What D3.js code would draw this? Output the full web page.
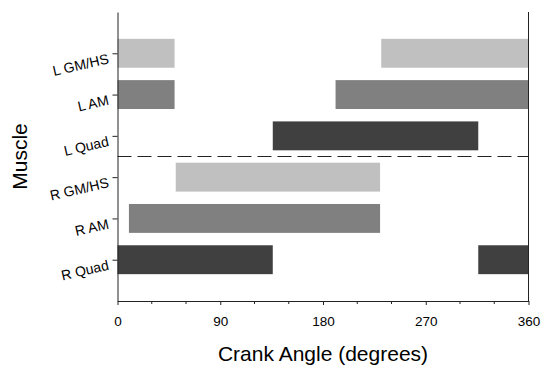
<!DOCTYPE html>
<html><head><meta charset="utf-8">
<script src="https://cdn.jsdelivr.net/npm/d3@7"></script>
<style>body{margin:0;background:#fff}svg{display:block}</style>
</head><body>
<svg id="c" width="542" height="365"></svg>
<script>
const muscles = ["L GM/HS","L AM","L Quad","R GM/HS","R AM","R Quad"];
const rowPos = [6,5,4,3,2,1];
const shades = ["#c0c0c0","#808080","#404040","#c0c0c0","#808080","#404040"];
// activation segments [start, end] in degrees, per muscle
const segStart = [[0,231],[0,191],[136],[51],[10],[0,316]];
const segEnd   = [[50,360],[50,360],[316],[230],[230],[136,360]];
const xTicks = [0,90,180,270,360];
const xMinor = [30,60,120,150,210,240,300,330];

const FONT = "Liberation Sans, Arial, sans-serif";
const svg = d3.select("#c");
const L=117.5, R=528.5, T=12, B=301;
const x = d3.scaleLinear().domain([0,360]).range([L,R]);
const y = d3.scaleLinear().domain([0,7]).range([B,T]);
const bh = y(0)-y(0.7);

const bars = [];
muscles.forEach((m,i)=>segStart[i].forEach((s,j)=>bars.push({s,e:segEnd[i][j],r:rowPos[i],c:shades[i]})));
svg.append("g").selectAll("rect").data(bars).join("rect")
  .attr("x",d=>x(d.s)).attr("width",d=>x(d.e)-x(d.s))
  .attr("y",d=>y(d.r)-bh/2).attr("height",bh).attr("fill",d=>d.c);

// dashed separator
svg.append("line").attr("x1",L).attr("x2",R).attr("y1",y(3.5)).attr("y2",y(3.5))
  .attr("stroke","#222").attr("stroke-width",1).attr("stroke-dasharray","14,6");

// right border
svg.append("line").attr("x1",R).attr("x2",R).attr("y1",T).attr("y2",B).attr("stroke","#222");

// x axis
const xa = svg.append("g").attr("transform",`translate(0,${B})`)
  .call(d3.axisBottom(x).tickValues(xTicks).tickSize(4).tickSizeOuter(0).tickPadding(11).tickFormat(d3.format("d")));
xa.append("g").selectAll("line").data(xMinor).join("line")
  .attr("x1",d=>x(d)).attr("x2",d=>x(d)).attr("y1",0).attr("y2",3).attr("stroke","#222");
xa.selectAll("text").attr("font-family",FONT).attr("font-size",13.5).attr("fill","#000");
xa.select(".domain").attr("stroke","#222");
xa.selectAll(".tick line").attr("stroke","#222");

// y axis
const ya = svg.append("g").attr("transform",`translate(${L},0)`)
  .call(d3.axisLeft(y).tickValues(rowPos).tickSize(5).tickSizeOuter(0).tickFormat((d,i)=>muscles[i]));
ya.select(".domain").attr("stroke","#222");
ya.selectAll(".tick line").attr("stroke","#222");
ya.selectAll("text").attr("font-family",FONT).attr("font-size",14).attr("fill","#000")
  .attr("x",0).attr("transform","translate(-9,5) rotate(-13)");

svg.append("text").attr("x",(L+R)/2).attr("y",361).attr("text-anchor","middle")
  .attr("font-family",FONT).attr("font-size",21).text("Crank Angle (degrees)");
svg.append("text").attr("transform",`translate(27,${(T+B)/2}) rotate(-90)`).attr("text-anchor","middle")
  .attr("font-family",FONT).attr("font-size",21).text("Muscle");
</script>
</body></html>
